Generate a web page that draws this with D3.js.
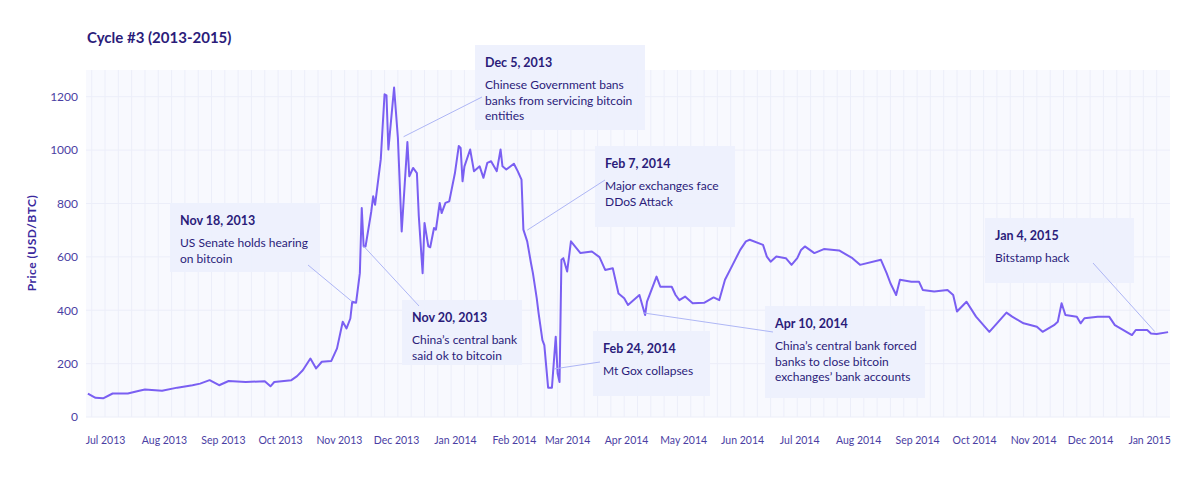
<!DOCTYPE html>
<html><head><meta charset="utf-8">
<script src="https://cdn.jsdelivr.net/npm/d3@7"></script>
<style>body{margin:0;background:#fff}text{font-family:Lato,"Noto Sans",sans-serif}</style>
</head><body><svg id="c" width="1200" height="477"></svg>
<script>
const baseDate = "2013-07-01";
// days since baseDate
const dayOffsets = [-9,-5,-1,4,12,18,21,30,38,46,50,55,60,65,74,84,87,89,98,101,104,108,111,114,119,122,125,127,129,130,132,134,135,136,137,140,141,142,145,146,147,148,149,152,154,156,159,160,162,164,165,167,168,170,171,173,174,176,177,179,181,184,186,187,188,189,192,194,197,199,201,203,206,208,209,211,215,217,219,220,222,224,225,227,228,230,231,233,235,237,238,239,240,241,243,245,250,256,260,263,267,270,273,275,281,284,285,290,292,298,300,302,305,309,315,320,323,326,330,334,337,339,346,348,350,353,358,361,364,366,368,373,378,386,393,397,408,411,413,416,418,424,428,430,436,443,446,448,453,458,465,469,474,477,483,490,493,499,501,503,505,511,513,515,522,528,531,540,542,548,550,553,559];
const prices = [88,72,70,88,88,98,103,98,110,119,125,138,119,135,131,134,115,131,138,153,175,219,182,207,210,257,357,332,369,432,428,539,783,639,639,770,827,795,965,1090,1209,1205,1002,1234,1046,695,1030,902,933,914,752,539,727,639,636,708,702,802,764,802,808,914,1015,1008,883,939,1002,921,939,896,952,958,921,1002,939,927,949,921,889,702,658,576,539,445,388,288,269,110,110,301,163,131,589,595,545,658,614,620,599,551,557,463,445,420,457,382,432,526,488,488,457,438,451,426,428,448,438,514,570,626,658,664,645,601,582,601,595,570,595,626,639,614,629,624,595,570,589,539,501,457,514,507,507,476,470,476,457,395,432,376,319,351,391,376,351,338,319,344,357,426,382,376,351,370,376,376,344,307,326,326,313,311,318];
const yTicks = [0,200,400,600,800,1000,1200];
const monthTicks = ["2013-07-01","2013-08-01","2013-09-01","2013-10-01","2013-11-01","2013-12-01","2014-01-01","2014-02-01","2014-03-01","2014-04-01","2014-05-01","2014-06-01","2014-07-01","2014-08-01","2014-09-01","2014-10-01","2014-11-01","2014-12-01","2015-01-01"];
const annDates = ["Dec 5, 2013","Nov 18, 2013","Nov 20, 2013","Feb 7, 2014","Feb 24, 2014","Apr 10, 2014","Jan 4, 2015"];
const annTexts = [["Chinese Government bans","banks from servicing bitcoin","entities"],["US Senate holds hearing","on bitcoin"],["China’s central bank","said ok to bitcoin"],["Major exchanges face","DDoS Attack"],["Mt Gox collapses"],["China’s central bank forced","banks to close bitcoin","exchanges’ bank accounts"],["Bitstamp hack"]];
const annPointDays = [157,130,136,222,236,283,552];
const annPointVals = [1050,432,640,700,180,390,320];
const annBoxes = [[475,45,170,85,482,97],[170,203,150,69,308,265],[402,300,120,65,419,306],[595,146,140,81,605,180],[593,331,117,65,600,362],[765,306,160,92,773,332],[985,218,149,65,1093,263]];

const base = d3.utcParse("%Y-%m-%d")(baseDate);
const dt = dayOffsets.map(d=>d3.utcDay.offset(base,d));
const data = dt.map((d,i)=>({d,v:prices[i]}));
const svg = d3.select("#c");
const L=86,R=1170,T=70,B=417;
const x = d3.scaleUtc().domain([d3.utcDay.offset(base,-9.5),d3.utcDay.offset(base,560)]).range([L,R]);
const y = d3.scaleLinear().domain([0,1300]).range([B,T]);
svg.append("rect").attr("x",L).attr("y",T).attr("width",R-L).attr("height",B-T).attr("fill","#f8f9fe");
const weeks = d3.utcMonday.range(x.domain()[0],x.domain()[1]);
svg.append("g").selectAll("line").data(weeks).join("line").attr("x1",d=>x(d)).attr("x2",d=>x(d)).attr("y1",T).attr("y2",B).attr("stroke","#eceef9").attr("stroke-width",1);
svg.append("g").selectAll("line").data(yTicks).join("line").attr("x1",L).attr("x2",R).attr("y1",d=>y(d)).attr("y2",d=>y(d)).attr("stroke","#eceef9");
const ya = svg.append("g").attr("transform",`translate(${L},0)`).call(d3.axisLeft(y).tickValues(yTicks).tickFormat(d3.format("d")).tickSize(0).tickPadding(8));
ya.select(".domain").remove();
ya.selectAll("text").attr("fill","#4a3ea3").attr("font-size",12);
const mt = monthTicks.map(d3.utcParse("%Y-%m-%d"));
const xa = svg.append("g").attr("transform",`translate(0,${B})`).call(d3.axisBottom(x).tickValues(mt).tickFormat(d3.utcFormat("%b %Y")).tickSize(0).tickPadding(20));
xa.select(".domain").remove();
xa.selectAll("text").attr("fill","#4a3ea3").attr("font-size",10.5);
svg.append("text").attr("transform","translate(36,243) rotate(-90)").attr("text-anchor","middle").attr("font-weight","bold").attr("font-size",12).attr("fill","#3b2a9e").attr("letter-spacing",0.5).text("Price (USD/BTC)");
svg.append("text").attr("x",87).attr("y",43).attr("font-weight","bold").attr("font-size",15).attr("fill","#2b1c7a").text("Cycle #3 (2013-2015)");
svg.append("path").datum(data).attr("fill","none").attr("stroke","#7a5ff2").attr("stroke-width",2).attr("stroke-linejoin","round")
  .attr("d",d3.line().x(d=>x(d.d)).y(d=>y(d.v)));
annBoxes.forEach((b,i)=>{
  const g=svg.append("g");
  g.append("rect").attr("x",b[0]).attr("y",b[1]).attr("width",b[2]).attr("height",b[3]).attr("fill","#edf0fd").attr("opacity",0.95);
  g.append("line").attr("x1",x(d3.utcDay.offset(base,annPointDays[i]))).attr("y1",y(annPointVals[i])).attr("x2",b[4]).attr("y2",b[5]).attr("stroke","#aeb6f5").attr("stroke-width",1);
  g.append("text").attr("x",b[0]+10).attr("y",b[1]+22).attr("font-weight","bold").attr("font-size",12.5).attr("fill","#2b1c7a").text(annDates[i]);
  annTexts[i].forEach((t,j)=>g.append("text").attr("x",b[0]+10).attr("y",b[1]+44+j*15.5).attr("font-size",12).attr("fill","#2b1c7a").text(t));
});
</script></body></html>
